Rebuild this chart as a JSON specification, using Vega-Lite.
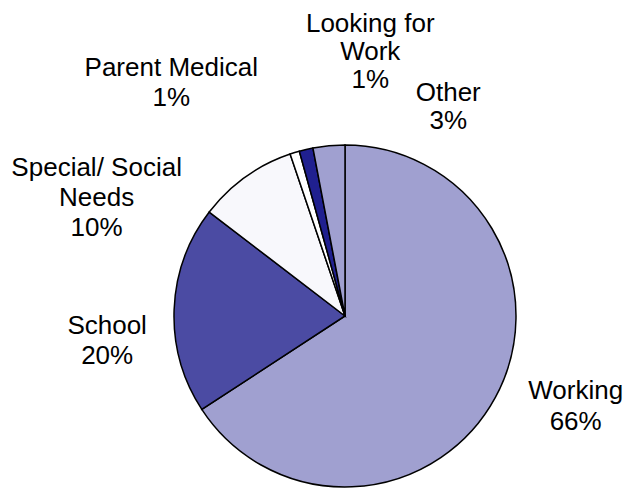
{
  "$schema": "https://vega.github.io/schema/vega-lite/v6.json",
  "width": 560,
  "height": 344,
  "autosize": {"type": "none"},
  "padding": {"left": 65, "top": 144, "right": 0, "bottom": 0},
  "background": "white",
  "view": {"stroke": null},
  "data": {
    "values": [
      {"category": "Working", "value": 65.8, "label": "Working\n66%", "rank": 1},
      {"category": "School", "value": 19.6, "label": "School\n20%", "rank": 2},
      {"category": "Special/ Social Needs", "value": 9.4, "label": "Special/ Social\nNeeds\n10%", "rank": 3},
      {"category": "Parent Medical", "value": 0.9, "label": "Parent Medical\n1%", "rank": 4},
      {"category": "Looking for Work", "value": 1.3, "label": "Looking for\nWork\n1%", "rank": 5},
      {"category": "Other", "value": 3.0, "label": "Other\n3%", "rank": 6}
    ]
  },
  "encoding": {
    "theta": {"field": "value", "type": "quantitative", "stack": true},
    "order": {"field": "rank", "type": "quantitative"}
  },
  "layer": [
    {
      "mark": {"type": "arc", "radius": 171, "stroke": "black", "strokeWidth": 1.5},
      "encoding": {
        "color": {
          "field": "category",
          "type": "nominal",
          "scale": {
            "domain": ["Working", "School", "Special/ Social Needs", "Parent Medical", "Looking for Work", "Other"],
            "range": ["#A0A0D0", "#4B4BA3", "#F8F8FC", "#FFFFFF", "#20208F", "#A0A0D0"]
          },
          "legend": null
        }
      }
    },
    {
      "mark": {"type": "text", "radius": 210, "dx": 46, "dy": -25, "font": "Liberation Sans", "fontSize": 26, "lineBreak": "\n", "lineHeight": 31, "align": "center", "baseline": "middle", "color": "black"},
      "encoding": {"text": {"condition": {"test": "datum.category === 'Working'", "field": "label"}, "value": ""}}
    },
    {
      "mark": {"type": "text", "radius": 210, "dx": -28, "dy": 18, "font": "Liberation Sans", "fontSize": 26, "lineBreak": "\n", "lineHeight": 30, "align": "center", "baseline": "middle", "color": "black"},
      "encoding": {"text": {"condition": {"test": "datum.category === 'School'", "field": "label"}, "value": ""}}
    },
    {
      "mark": {"type": "text", "radius": 210, "dx": -126, "dy": 23, "font": "Liberation Sans", "fontSize": 26, "lineBreak": "\n", "lineHeight": 30, "align": "center", "baseline": "middle", "color": "black"},
      "encoding": {"text": {"condition": {"test": "datum.category === 'Special/ Social Needs'", "field": "label"}, "value": ""}}
    },
    {
      "mark": {"type": "text", "radius": 210, "dx": -112, "dy": -47, "font": "Liberation Sans", "fontSize": 26, "lineBreak": "\n", "lineHeight": 30, "align": "center", "baseline": "middle", "color": "black"},
      "encoding": {"text": {"condition": {"test": "datum.category === 'Parent Medical'", "field": "label"}, "value": ""}}
    },
    {
      "mark": {"type": "text", "radius": 210, "dx": 73, "dy": -87, "font": "Liberation Sans", "fontSize": 26, "lineBreak": "\n", "lineHeight": 28, "align": "center", "baseline": "middle", "color": "black"},
      "encoding": {"text": {"condition": {"test": "datum.category === 'Looking for Work'", "field": "label"}, "value": ""}}
    },
    {
      "mark": {"type": "text", "radius": 210, "dx": 123, "dy": -14, "font": "Liberation Sans", "fontSize": 26, "lineBreak": "\n", "lineHeight": 28.5, "align": "center", "baseline": "middle", "color": "black"},
      "encoding": {"text": {"condition": {"test": "datum.category === 'Other'", "field": "label"}, "value": ""}}
    }
  ]
}
